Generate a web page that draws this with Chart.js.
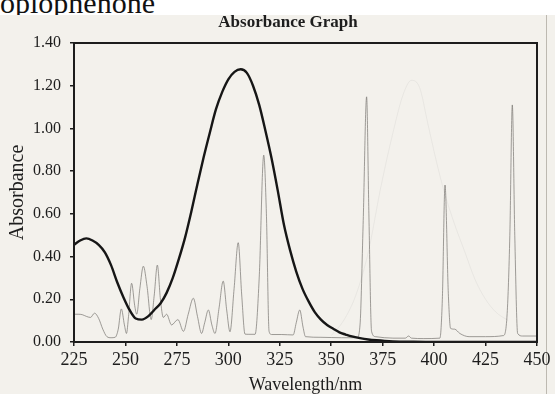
<!DOCTYPE html>
<html>
<head>
<meta charset="utf-8">
<title>Absorbance Graph</title>
<script src="https://cdn.jsdelivr.net/npm/chart.js@4"></script>
<style>
  html, body { margin: 0; padding: 0; }
  body {
    width: 555px; height: 394px; overflow: hidden; position: relative;
    background: #f3f1ec; font-family: "Liberation Serif", serif;
  }
  .strip { position: absolute; left: 0; top: 0; width: 555px; height: 15px; background: #fff; overflow: hidden; }
  .strip span { position: absolute; left: 0; top: -12px; font-size: 30px; line-height: 30px; color: #111; }
  .title {
    position: absolute; top: 13px; left: 188px; width: 200px; text-align: center;
    font-weight: bold; font-size: 17px; line-height: 17px; color: #1d1d1d;
  }
  .edge { position: absolute; left: 546px; top: 15px; width: 1px; height: 379px; background: #bdb9b1; }
  #chart { position: absolute; left: 0; top: 0; }
</style>
</head>
<body>
<div class="strip"><span>oplophenone</span></div>
<div class="edge"></div>
<canvas id="chart" width="555" height="394"></canvas>
<div class="title">Absorbance Graph</div>
<script>
// compound absorbance (heavy black curve)
const compoundNm = [225, 228, 231, 234, 237, 240, 243, 246, 249, 252, 255, 258, 261, 264, 267, 270, 273, 276,
  279, 282, 285, 288, 291, 294, 297, 300, 303, 306, 309, 312, 315, 318, 321, 324, 327, 330, 333, 336, 339,
  342, 345, 348, 351, 354, 357, 360, 364, 368, 372, 376, 380, 390, 400, 450];
const compoundAbs = [0.455, 0.475, 0.485, 0.475, 0.455, 0.42, 0.36, 0.28, 0.21, 0.15, 0.11, 0.105, 0.12, 0.15,
  0.18, 0.23, 0.3, 0.39, 0.49, 0.61, 0.74, 0.865, 0.98, 1.09, 1.17, 1.23, 1.265, 1.277, 1.26, 1.2, 1.11, 0.99,
  0.86, 0.71, 0.55, 0.43, 0.33, 0.25, 0.19, 0.14, 0.105, 0.08, 0.062, 0.045, 0.035, 0.026, 0.018, 0.012,
  0.008, 0.005, 0.003, 0.001, 0, 0];

// lamp line spectrum (thin grey trace)
const lampNm = [225, 227, 229, 231, 233, 235, 237, 239, 241, 243, 245, 246.5, 248, 249.5, 250.5, 251.5, 253,
  254.5, 255.5, 257, 258.7, 260.5, 262.5, 264, 265.5, 267, 268.4, 270, 272.4, 275.5, 278.2, 280.5, 283, 285,
  287, 288.5, 290.3, 292, 293.5, 295.5, 297.5, 299.2, 300.8, 302.8, 304.8, 306.5, 308.1, 310, 313, 315, 317.2,
  318.5, 319.8, 321, 326, 331.5, 333, 334.7, 336.3, 337.5, 345, 355, 362.5, 364, 365.5, 367.2, 368.3, 369.6,
  371.5, 380, 386, 387.6, 389, 395, 402.8, 404, 405.3, 406.9, 408, 410, 412.5, 417, 425, 433.6, 435.5, 436.8,
  438, 439.2, 440.6, 443, 450];
const lampAbs = [0.13, 0.13, 0.128, 0.12, 0.115, 0.135, 0.11, 0.06, 0.025, 0.02, 0.022, 0.06, 0.155, 0.08,
  0.04, 0.12, 0.275, 0.17, 0.13, 0.25, 0.355, 0.26, 0.105, 0.22, 0.36, 0.2, 0.115, 0.13, 0.08, 0.105, 0.05,
  0.13, 0.205, 0.12, 0.04, 0.09, 0.15, 0.08, 0.04, 0.16, 0.285, 0.15, 0.048, 0.25, 0.465, 0.22, 0.037, 0.036,
  0.036, 0.3, 0.875, 0.6, 0.05, 0.035, 0.035, 0.033, 0.09, 0.15, 0.07, 0.025, 0.022, 0.02, 0.02, 0.08, 0.55,
  1.148, 0.6, 0.05, 0.025, 0.018, 0.018, 0.028, 0.018, 0.016, 0.018, 0.2, 0.735, 0.228, 0.064, 0.06, 0.04,
  0.025, 0.025, 0.03, 0.134, 0.5, 1.11, 0.5, 0.04, 0.028, 0.028];

// faint broad band showing through the sheet
const ghostNm = [350, 356, 362, 368, 374, 380, 385, 389, 393, 397, 401, 405, 410, 415, 420, 425, 430, 436];
const ghostAbs = [0.03, 0.1, 0.22, 0.42, 0.72, 0.98, 1.16, 1.225, 1.19, 1.02, 0.85, 0.7, 0.55, 0.42, 0.29,
  0.2, 0.14, 0.1];

const wavelengthTicks = [225, 250, 275, 300, 325, 350, 375, 400, 425, 450];
const absorbanceTicks = [0, 0.2, 0.4, 0.6, 0.8, 1.0, 1.2, 1.4];

const serif = '"Liberation Serif", "Times New Roman", serif';
const ink = '#1d1d1d';

function pairs(xs, ys) {
  return xs.map((x, i) => ({ x: x, y: ys[i] }));
}

const framePlugin = {
  id: 'frame',
  afterDatasetsDraw(chart) {
    const { ctx, chartArea: a } = chart;
    ctx.save();
    ctx.strokeStyle = '#1c1c1c';
    ctx.lineWidth = 2;
    ctx.strokeRect(a.left, a.top, a.right - a.left, a.bottom - a.top);
    ctx.restore();
  }
};

const ctx = document.getElementById('chart').getContext('2d');
new Chart(ctx, {
  type: 'line',
  data: {
    datasets: [
      {
        label: 'Compound',
        data: pairs(compoundNm, compoundAbs),
        borderColor: '#161616',
        borderWidth: 2.4,
        pointRadius: 0,
        cubicInterpolationMode: 'monotone',
        fill: false
      },
      {
        label: 'Lamp',
        data: pairs(lampNm, lampAbs),
        borderColor: 'rgba(120, 117, 112, 0.7)',
        borderWidth: 1,
        pointRadius: 0,
        cubicInterpolationMode: 'monotone',
        fill: false
      },
      {
        label: 'Show-through',
        data: pairs(ghostNm, ghostAbs),
        borderColor: 'rgba(120, 120, 120, 0.08)',
        borderWidth: 1,
        pointRadius: 0,
        cubicInterpolationMode: 'monotone',
        fill: false
      }
    ]
  },
  options: {
    responsive: false,
    animation: false,
    layout: { padding: { top: 43, right: 18, left: 0, bottom: 0 } },
    plugins: {
      legend: { display: false },
      tooltip: { enabled: false }
    },
    scales: {
      x: {
        type: 'linear',
        min: 225,
        max: 450,
        afterBuildTicks: s => { s.ticks = wavelengthTicks.map(v => ({ value: v })); },
        afterFit: s => { s.height = 52; },
        border: { display: false },
        grid: { drawOnChartArea: false, drawTicks: true, tickLength: 4, color: ink, lineWidth: 1.5 },
        ticks: { color: ink, font: { family: serif, size: 18 }, padding: 3, maxRotation: 0, autoSkip: false },
        title: {
          display: true, text: 'Wavelength/nm', color: ink,
          font: { family: serif, size: 18, lineHeight: 1.0 }, padding: { top: 0, bottom: 0 }
        }
      },
      y: {
        min: 0,
        max: 1.4,
        afterBuildTicks: s => { s.ticks = absorbanceTicks.map(v => ({ value: v })); },
        afterFit: s => { s.width = 74; },
        border: { display: false },
        grid: { drawOnChartArea: false, drawTicks: true, tickLength: 4, color: ink, lineWidth: 1.5 },
        ticks: { color: ink, font: { family: serif, size: 16 }, padding: 9, callback: v => v.toFixed(2) },
        title: {
          display: true, text: 'Absorbance', color: ink,
          font: { family: serif, size: 20, lineHeight: 1.0 }, padding: { top: 8, bottom: 0 }
        }
      }
    }
  },
  plugins: [framePlugin]
});
</script>
</body>
</html>
